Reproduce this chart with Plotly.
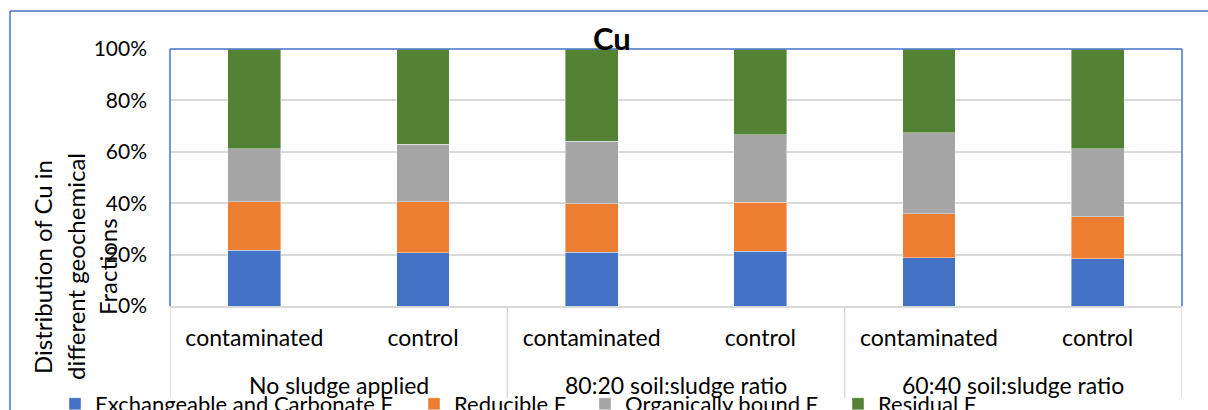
import plotly.graph_objects as go

groups = ["No sludge applied", "80:20 soil:sludge ratio", "60:40 soil:sludge ratio"]
group_of_bar = [0, 0, 1, 1, 2, 2]
categories = ["contaminated", "control", "contaminated", "control", "contaminated", "control"]

exchangeable = [21.7, 20.7, 20.9, 21.3, 18.8, 18.4]
reducible = [18.9, 19.9, 18.8, 19.0, 17.1, 16.3]
organic = [20.5, 22.4, 24.5, 26.4, 31.5, 26.4]
residual = [38.9, 37.0, 35.8, 33.3, 32.6, 38.9]

series_names = ["Exchangeable and Carbonate F", "Reducible F", "Organically bound F", "Residual F"]
series_values = [exchangeable, reducible, organic, residual]
colors = ["#4472C4", "#ED7D31", "#A5A5A5", "#548235"]

W, H = 1208, 410
L, R, T, B = 170, 26, 49, 104
PW, PH = W - L - R, H - T - B

def px_x(p):
    return (p - L) / PW

def px_y(p):
    return (H - B - p) / PH

FONT = "Lato"
xpos = list(range(len(categories)))

legend_ids = ["legend", "legend2", "legend3", "legend4"]
legend_px = [55, 414, 585, 838]

fig = go.Figure()
for name, vals, col, lid in zip(series_names, series_values, colors, legend_ids):
    fig.add_trace(go.Bar(
        x=xpos, y=vals, name=name, legend=lid,
        marker=dict(color=col, line=dict(color="rgba(255,255,255,0.5)", width=0.8)),
    ))

layout_legends = {}
for lid, lx in zip(legend_ids, legend_px):
    layout_legends[lid] = dict(orientation="h", x=px_x(lx), xanchor="left", y=px_y(404), yanchor="middle",
                               font=dict(family=FONT, size=22, color="black"),
                               itemwidth=30, bgcolor="rgba(0,0,0,0)")

fig.update_layout(
    width=W, height=H,
    margin=dict(l=L, r=R, t=T, b=B, autoexpand=False),
    barmode="stack", bargap=0.6876,
    paper_bgcolor="white", plot_bgcolor="white",
    font=dict(family=FONT, size=21, color="black"),
    showlegend=True,
    **layout_legends,
)

fig.update_yaxes(range=[0, 100], dtick=20, ticksuffix="%", showgrid=True,
                 gridcolor="#D9D9D9", gridwidth=1.5, zeroline=False, showline=False,
                 ticks="", ticklabelstandoff=22, automargin=False,
                 tickfont=dict(family=FONT, size=21, color="black"))
fig.update_xaxes(range=[-0.5, len(categories) - 0.5], tickvals=xpos, ticktext=categories,
                 showline=True, linecolor="#D9D9D9", linewidth=2, ticks="", showgrid=False,
                 ticklabelstandoff=10, automargin=False,
                 tickfont=dict(family=FONT, size=23, color="black"))

# group labels and dividers of the two-level category axis
for gi, gname in enumerate(groups):
    members = [i for i, g in enumerate(group_of_bar) if g == gi]
    fig.add_annotation(text=gname, xref="x", yref="paper", x=sum(members) / len(members), y=px_y(385),
                       xanchor="center", yanchor="middle", showarrow=False,
                       font=dict(family=FONT, size=23, color="black"))
bounds = [-0.5] + [i + 0.5 for i in range(len(group_of_bar) - 1) if group_of_bar[i] != group_of_bar[i + 1]] + [len(group_of_bar) - 0.5]
for bx in bounds:
    fig.add_shape(type="line", xref="x", yref="paper", x0=bx, x1=bx, y0=px_y(307), y1=px_y(398),
                  line=dict(color="#D9D9D9", width=1.5))

# plot-area border (left, top, right) in blue
blue = "#4472C4"
for x0, y0, x1, y1 in [(0, 0, 0, 1), (0, 1, 1, 1), (1, 0, 1, 1)]:
    fig.add_shape(type="line", xref="paper", yref="paper", x0=x0, y0=y0, x1=x1, y1=y1,
                  line=dict(color=blue, width=1.5), layer="above")
# outer chart border (top and left visible)
fig.add_shape(type="line", xref="paper", yref="paper", x0=px_x(10), y0=px_y(11), x1=px_x(1215), y1=px_y(11),
              line=dict(color=blue, width=1.5))
fig.add_shape(type="line", xref="paper", yref="paper", x0=px_x(10), y0=px_y(11), x1=px_x(10), y1=px_y(420),
              line=dict(color=blue, width=1.5))

# title
fig.add_annotation(text="<b>Cu</b>", xref="paper", yref="paper", x=px_x(612), y=px_y(38),
                   xanchor="center", yanchor="middle", showarrow=False,
                   font=dict(family=FONT, size=31, color="black"))

# y axis title, three lines
ytitle_lines = ["Distribution of Cu in", "different geochemical", "Fractions"]
for line, cx in zip(ytitle_lines, [42, 75, 107]):
    fig.add_annotation(text=line, xref="paper", yref="paper", x=px_x(cx), y=px_y(267),
                       xanchor="center", yanchor="middle", textangle=-90, showarrow=False,
                       font=dict(family=FONT, size=24, color="black"))

fig.write_html("out.html")
